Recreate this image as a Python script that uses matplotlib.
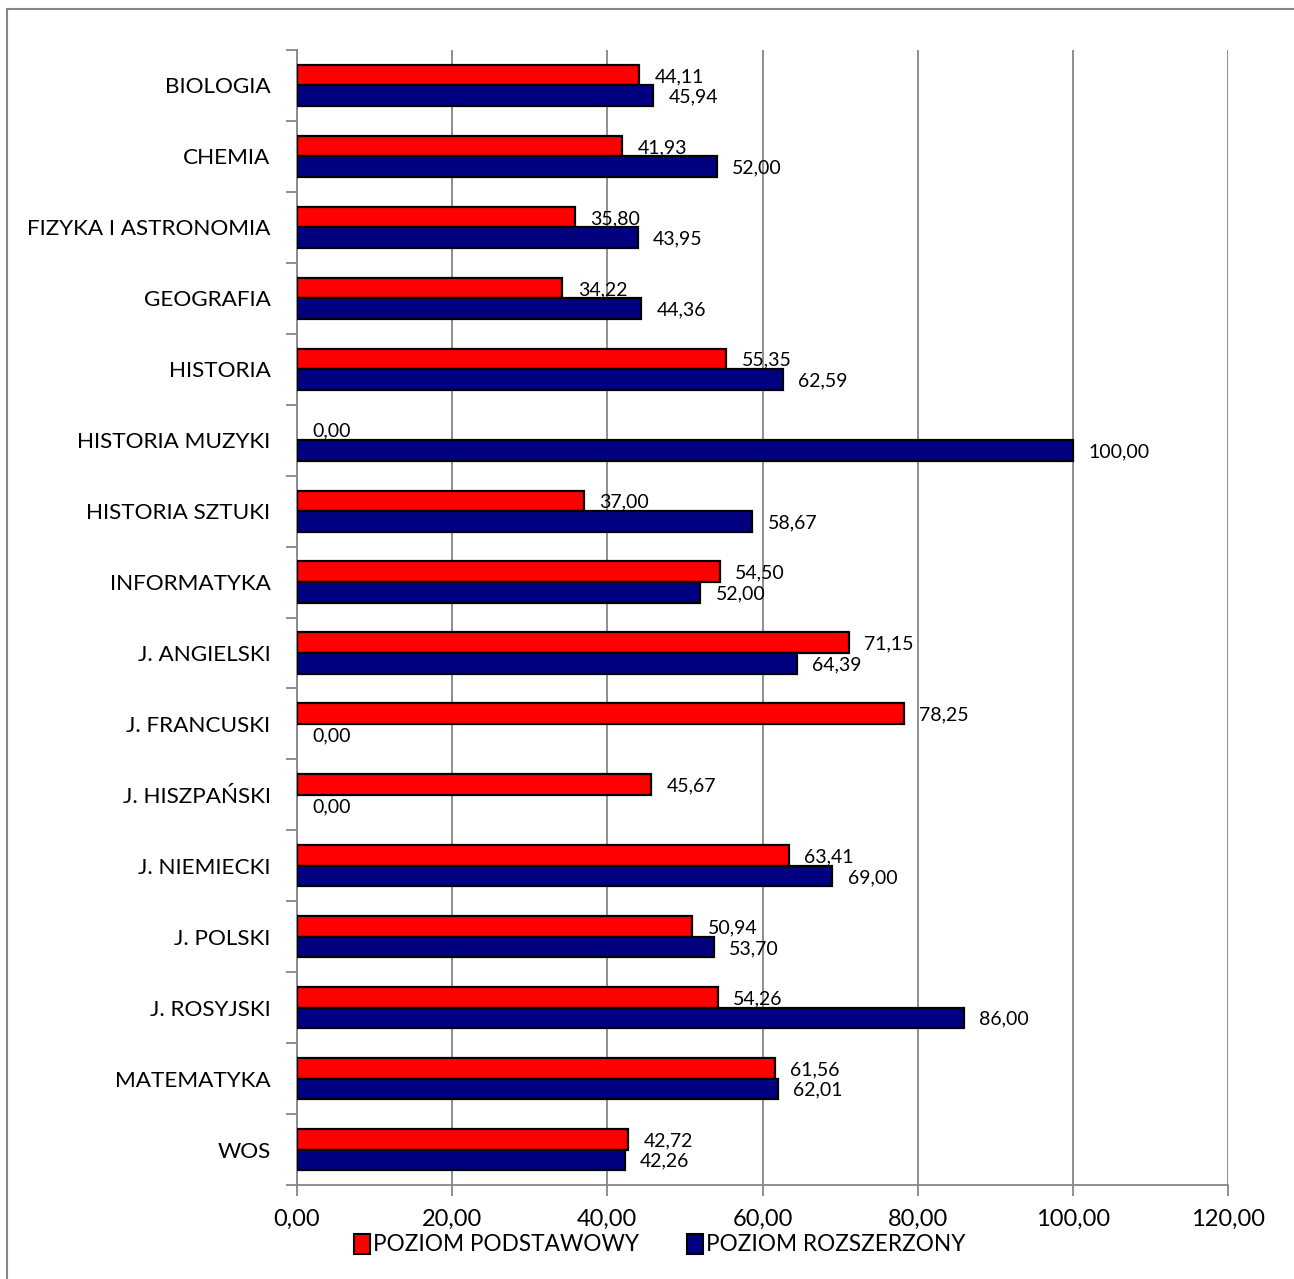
import matplotlib.pyplot as plt
from matplotlib.patches import Patch
from matplotlib.lines import Line2D

plt.rcParams["font.family"] = ["Lato", "DejaVu Sans"]

SUBJECTS = [
    "BIOLOGIA", "CHEMIA", "FIZYKA I ASTRONOMIA", "GEOGRAFIA", "HISTORIA",
    "HISTORIA MUZYKI", "HISTORIA SZTUKI", "INFORMATYKA", "J. ANGIELSKI",
    "J. FRANCUSKI", "J. HISZPAŃSKI", "J. NIEMIECKI", "J. POLSKI",
    "J. ROSYJSKI", "MATEMATYKA", "WOS",
]
BASIC = [44.11, 41.93, 35.80, 34.22, 55.35, 0.00, 37.00, 54.50, 71.15,
         78.25, 45.67, 63.41, 50.94, 54.26, 61.56, 42.72]
# bar lengths as drawn (CHEMIA bar is longer than its 52,00 label)
EXTENDED = [45.94, 54.10, 43.95, 44.36, 62.59, 100.00, 58.67, 52.00, 64.39,
            0.00, 0.00, 69.00, 53.70, 86.00, 62.01, 42.26]
EXTENDED_LABELS = ["45,94", "52,00", "43,95", "44,36", "62,59", "100,00", "58,67",
                   "52,00", "64,39", "0,00", "0,00", "69,00", "53,70", "86,00",
                   "62,01", "42,26"]
SERIES = ["POZIOM PODSTAWOWY", "POZIOM ROZSZERZONY"]
COLORS = ["#ff0000", "#000080"]
XTICKS = [0, 20, 40, 60, 80, 100, 120]

W, H = 1294, 1279
fig = plt.figure(figsize=(W / 100, H / 100), dpi=100)
ax = fig.add_axes([297 / W, 1 - 1185 / H, (1228 - 297) / W, (1185 - 50) / H])

grey = "#868686"
fmt = lambda v: f"{v:.2f}".replace(".", ",")

ys = list(range(len(SUBJECTS)))
h = 0.29
basic_labels = [fmt(v) for v in BASIC]
for vals, labels, color, off in [(BASIC, basic_labels, COLORS[0], -h / 2),
                                 (EXTENDED, EXTENDED_LABELS, COLORS[1], h / 2)]:
    pos = [y + off for y in ys]
    lw = [1.6 if v > 0 else 0 for v in vals]
    ax.barh(pos, vals, height=h, color=color, edgecolor="black", linewidth=lw, zorder=3)
    for p, v, lab in zip(pos, vals, labels):
        ax.annotate(lab, (v, p), xytext=(11, -1), textcoords="offset points",
                    ha="left", va="center", fontsize=14, zorder=4)

ax.set_xlim(0, 120)
ax.set_ylim(len(SUBJECTS) - 0.5, -0.5)
ax.set_xticks(XTICKS)
ax.set_xticklabels([fmt(v) for v in XTICKS])
ax.set_yticks(ys)
ax.set_yticklabels(SUBJECTS)
ax.set_yticks([i - 0.5 for i in range(len(SUBJECTS) + 1)], minor=True)
ax.tick_params(axis="y", which="major", length=0, pad=19, labelsize=16.2)
ax.tick_params(axis="y", which="minor", length=8, color=grey, width=1.3)
ax.tick_params(axis="x", length=8, color=grey, width=1.3, pad=9, labelsize=17)
ax.grid(axis="x", color=grey, linewidth=1.3, zorder=0)
ax.set_axisbelow(True)
for s in ["top", "right"]:
    ax.spines[s].set_visible(False)
for s in ["left", "bottom"]:
    ax.spines[s].set_color(grey)
    ax.spines[s].set_linewidth(1.3)

handles = [Patch(facecolor=c, edgecolor="black", linewidth=1.5) for c in COLORS]
fig.legend(handles, SERIES, loc="center", bbox_to_anchor=(0.51, 0.027), ncol=2,
           frameon=False, fontsize=16.3, handlelength=0.7, handleheight=1.0,
           handletextpad=0.15, columnspacing=2.1)

# outer chart border (only top/left edges visible in the crop)
fig.add_artist(Line2D([7 / W, 7 / W], [0, 1 - 9 / H], color=grey, linewidth=1.5,
                      transform=fig.transFigure))
fig.add_artist(Line2D([7 / W, 1], [1 - 9 / H, 1 - 9 / H], color=grey, linewidth=1.5,
                      transform=fig.transFigure))

fig.savefig("out.png", dpi=100)
